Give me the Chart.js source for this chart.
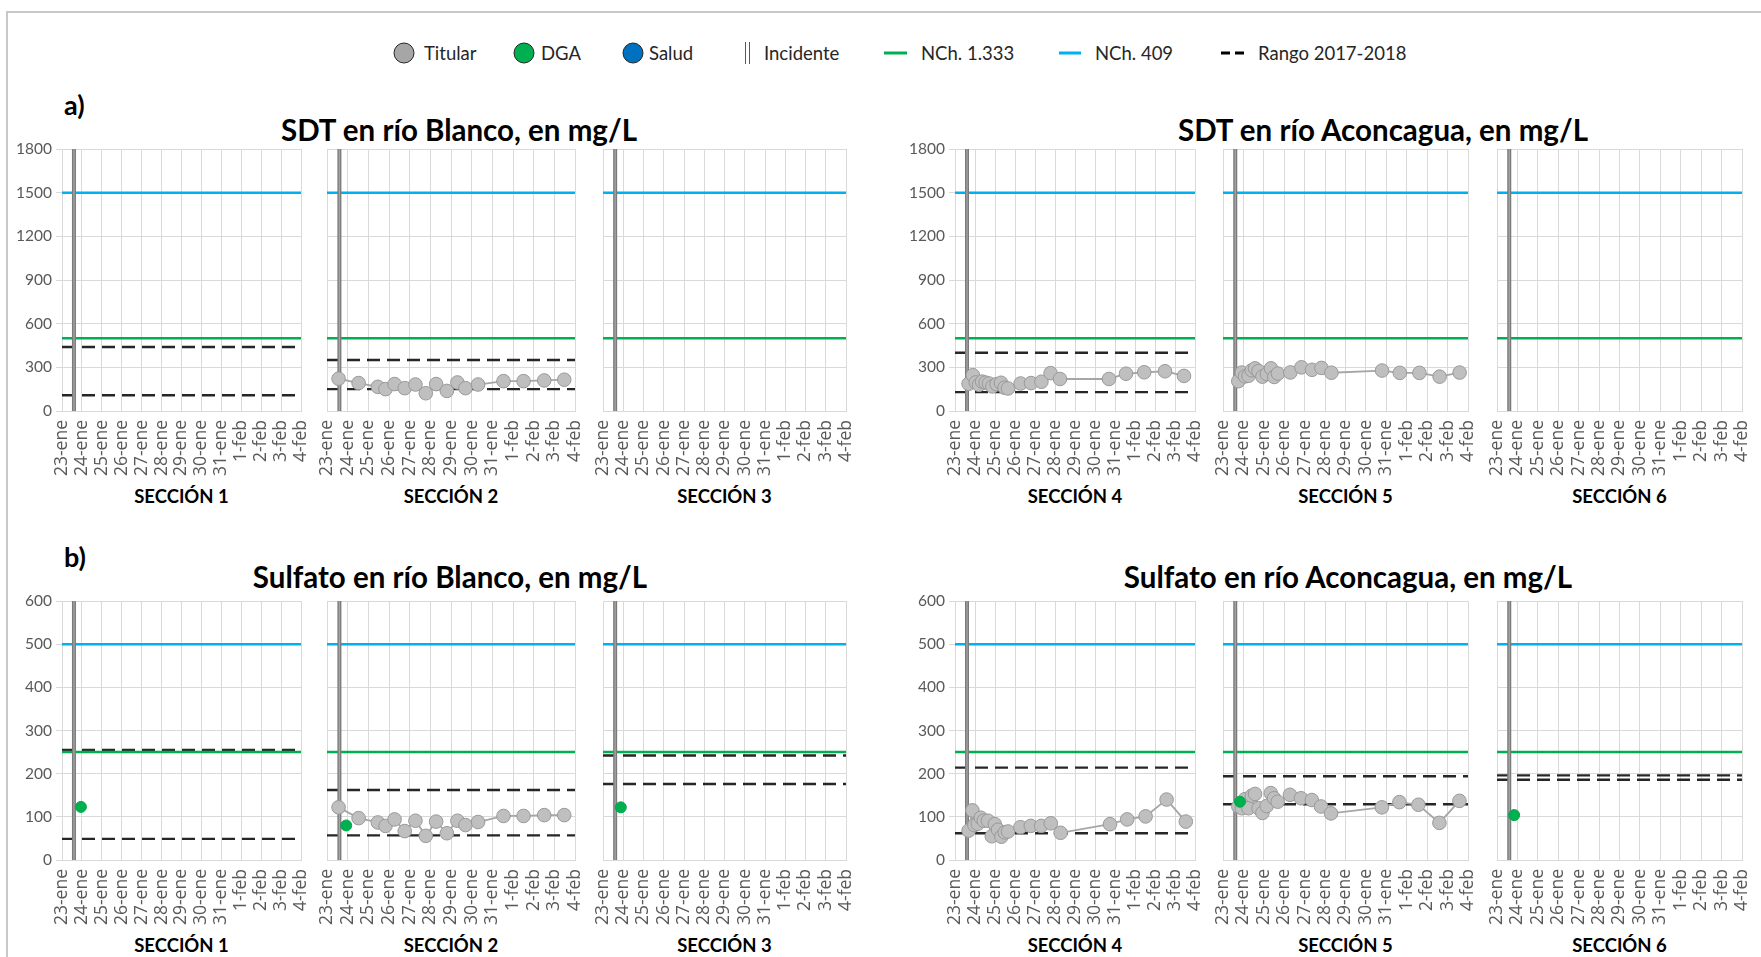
<!DOCTYPE html>
<html>
<head>
<meta charset="utf-8">
<script src="https://cdn.jsdelivr.net/npm/chart.js@4.4.1/dist/chart.umd.min.js"></script>
<style>
  body { margin:0; background:#fff; width:1761px; height:957px; overflow:hidden; position:relative; font-family:Lato, sans-serif; }
  #frame { position:absolute; left:6px; top:11px; width:1800px; height:1000px; border-left:2px solid #c8c8c8; border-top:2px solid #c8c8c8; }
  .t { position:absolute; white-space:nowrap; color:#000; transform:translate(-50%,-50%); }
  .title { font-weight:bold; font-size:29.5px; }
  .sec { font-weight:bold; font-size:18.5px; }
  .lbl { font-weight:bold; font-size:27px; transform:translate(0,-50%); }
  .leg { position:absolute; font-size:18.5px; color:#262626; transform:translate(0,-50%); white-space:nowrap; }
  .dot { position:absolute; width:19px; height:19px; border-radius:50%; border:1.5px solid #262626; transform:translate(-50%,-50%); }
  .bar { position:absolute; height:3px; transform:translate(0,-50%); }
  canvas { position:absolute; }
</style>
</head>
<body>
<div id="frame"></div>

<!-- legend -->
<div class="dot" style="left:404px;top:53px;background:#a6a6a6"></div>
<div class="leg" style="left:424px;top:53px">Titular</div>
<div class="dot" style="left:524px;top:53px;background:#00b050"></div>
<div class="leg" style="left:541px;top:53px">DGA</div>
<div class="dot" style="left:633px;top:53px;background:#0070c0"></div>
<div class="leg" style="left:649px;top:53px">Salud</div>
<div style="position:absolute;left:745px;top:42px;width:3px;height:22px;border-left:1px solid #595959;border-right:1px solid #595959"></div>
<div class="leg" style="left:764px;top:53px">Incidente</div>
<div class="bar" style="left:884px;top:53px;width:23px;background:#00b050"></div>
<div class="leg" style="left:921px;top:53px">NCh. 1.333</div>
<div class="bar" style="left:1059px;top:53px;width:22px;background:#00b0f0"></div>
<div class="leg" style="left:1095px;top:53px">NCh. 409</div>
<div class="bar" style="left:1221px;top:53px;width:23px;background:repeating-linear-gradient(90deg,#000 0 9px,transparent 9px 14px)"></div>
<div class="leg" style="left:1258px;top:53px">Rango 2017-2018</div>

<div class="t lbl" style="left:64px;top:104px">a)</div>
<div class="t lbl" style="left:64px;top:556px">b)</div>
<div class="t title" style="left:459px;top:129px">SDT en río Blanco, en mg/L</div>
<div class="t title" style="left:1383px;top:129px">SDT en río Aconcagua, en mg/L</div>
<div class="t title" style="left:450px;top:576px">Sulfato en río Blanco, en mg/L</div>
<div class="t title" style="left:1348px;top:576px">Sulfato en río Aconcagua, en mg/L</div>

<script>
// categorias del eje x (dias) y ticks del eje y
const days = ['23-ene','24-ene','25-ene','26-ene','27-ene','28-ene','29-ene','30-ene','31-ene','1-feb','2-feb','3-feb','4-feb'];
const sdtTicks = [0,300,600,900,1200,1500,1800];
const sulfTicks = [0,100,200,300,400,500,600];
const sections = ['SECCIÓN 1','SECCIÓN 2','SECCIÓN 3','SECCIÓN 4','SECCIÓN 5','SECCIÓN 6'];

// incidente (dias desde 23-ene)
const incidentDay = 0.6;

// normas
const sdtNch1333 = 500, sdtNch409 = 1500;
const sulfNch1333 = 250, sulfNch409 = 500;

// rango 2017-2018 por seccion
const sdtRangoHigh = [440,350,null,400,null,null];
const sdtRangoLow  = [108,150,null,130,null,null];
const sulfRangoHigh = [255,162,242,214,194,196];
const sulfRangoLow  = [49,57,176,62,129,186];

// Titular - SDT
const sdtSec2Day = [0.56,1.53,2.46,2.83,3.27,3.76,4.28,4.78,5.28,5.80,6.31,6.70,7.31,8.54,9.51,10.51,11.48];
const sdtSec2Val = [222,192,166,150,185,157,182,122,185,138,196,157,182,205,205,210,215];
const sdtSec4Day = [0.68,0.89,1.04,1.2,1.36,1.53,1.7,1.87,2.08,2.3,2.48,2.65,3.28,3.8,4.32,4.78,5.25,7.7,8.55,9.46,10.5,11.45];
const sdtSec4Val = [187,246,196,180,202,195,189,169,184,194,160,155,189,192,201,260,220,220,256,266,273,241];
const sdtSec5Day = [0.75,0.92,1.08,1.25,1.41,1.57,1.74,1.93,2.15,2.35,2.51,2.69,3.3,3.84,4.36,4.82,5.31,7.79,8.66,9.62,10.61,11.59];
const sdtSec5Val = [205,264,238,242,280,293,274,236,254,293,234,257,265,300,283,296,263,278,262,262,236,264];

// Titular - Sulfato
const sulfSec2Day = [0.56,1.53,2.46,2.83,3.27,3.76,4.28,4.78,5.28,5.80,6.31,6.70,7.31,8.54,9.51,10.51,11.48];
const sulfSec2Val = [122,97,87,79,94,67,91,56,89,62,91,81,88,102,102,104,104];
const sulfSec4Day = [0.68,0.87,0.97,1.14,1.29,1.44,1.65,1.84,1.99,2.15,2.32,2.49,2.65,3.27,3.79,4.31,4.79,5.28,7.75,8.61,9.53,10.58,11.54];
const sulfSec4Val = [68,115,81,84,98,91,91,55,83,70,54,64,66,76,79,79,85,63,83,94,101,140,89];
const sulfSec5Day = [0.75,0.92,1.08,1.25,1.41,1.57,1.74,1.93,2.14,2.34,2.5,2.68,3.28,3.82,4.35,4.8,5.29,7.78,8.64,9.57,10.6,11.58];
const sulfSec5Val = [124,120,141,120,149,153,120,109,125,155,143,135,151,143,139,124,108,122,134,128,86,137];

// DGA - Sulfato
const dgaSulfDay = [0.95,0.93,0.88,null,0.83,0.84];
const dgaSulfVal = [123,80,122,null,135,104];

// ---- layout ----
const PANEL_X = [[62,301],[327,575],[603,846],[955,1195],[1223,1468],[1497,1742]];
const ROW_Y = [[149,411],[601,860]];
const SEC_Y = [496,945];
const AX_W = 50, PAD = 14, AX_H = 85;

Chart.defaults.font.family = 'Lato';
Chart.defaults.animation = false;

function pts(xs, ys) { return xs.map((x, i) => ({x: x, y: ys[i]})); }
function hline(v, color, width, dash) {
  return { data: [{x:0, y:v}, {x:days.length - 1, y:v}], showLine:true, borderColor:color,
           borderWidth:width, borderDash:dash || [], pointRadius:0, order:5 };
}

function buildChart(cv, ds, ticks, showY) {
  const ymax = ticks[ticks.length - 1];
  return new Chart(cv, {
    type: 'scatter',
    data: { datasets: ds },
    options: {
      responsive:false, maintainAspectRatio:false, devicePixelRatio:1,
      layout: { padding: { top:PAD, right:PAD, left:0, bottom:0 } },
      plugins: { legend:{display:false}, tooltip:{enabled:false} },
      scales: {
        x: {
          type:'linear', min:0, max:days.length - 1,
          afterFit: s => { s.height = AX_H; },
          afterBuildTicks: s => { s.ticks = days.map((d, i) => ({value:i})); },
          grid: { color:'#d9d9d9', drawTicks:false },
          border: { color:'#d9d9d9' },
          ticks: { autoSkip:false, maxRotation:90, minRotation:90, padding:9,
                   callback: v => days[v], font:{family:'Open Sans', size:17.5}, color:'#595959' }
        },
        y: {
          min:0, max:ymax,
          afterFit: s => { s.width = AX_W; },
          afterBuildTicks: s => { s.ticks = ticks.map(v => ({value:v})); },
          grid: { color:'#d9d9d9', drawTicks:showY, tickLength:6 },
          border: { display:false },
          ticks: { display:showY, padding:4, callback: v => String(v),
                   font:{family:'Lato', size:15.5}, color:'#595959' }
        }
      }
    }
  });
}

function addPanel(row, col) {
  const sdt = row === 0;
  const ticks = sdt ? sdtTicks : sulfTicks;
  const ymax = ticks[ticks.length - 1];
  const [x0, x1] = PANEL_X[col], [y0, y1] = ROW_Y[row];

  const sec = document.createElement('div');
  sec.className = 't sec';
  sec.style.left = ((x0 + x1) / 2) + 'px'; sec.style.top = SEC_Y[row] + 'px';
  sec.textContent = sections[col];
  document.body.appendChild(sec);

  const ds = [];
  ds.push(hline(sdt ? sdtNch409 : sulfNch409, '#00b0f0', 2.5));
  ds.push(hline(sdt ? sdtNch1333 : sulfNch1333, '#00b050', 2.5));
  const hi = (sdt ? sdtRangoHigh : sulfRangoHigh)[col];
  const lo = (sdt ? sdtRangoLow : sulfRangoLow)[col];
  if (hi != null) ds.push(hline(hi, '#262626', 2.4, [13, 7]));
  if (lo != null) ds.push(hline(lo, '#262626', 2.4, [13, 7]));
  ds.push({ data:[{x:incidentDay, y:0}, {x:incidentDay, y:ymax}], showLine:true, borderColor:'#7a7a7a', borderWidth:4, pointRadius:0, order:3 });
  ds.push({ data:[{x:incidentDay, y:0}, {x:incidentDay, y:ymax}], showLine:true, borderColor:'#a6a6a6', borderWidth:1.3, pointRadius:0, order:2 });

  const tit = sdt ? [null, [sdtSec2Day, sdtSec2Val], null, [sdtSec4Day, sdtSec4Val], [sdtSec5Day, sdtSec5Val], null][col]
                  : [null, [sulfSec2Day, sulfSec2Val], null, [sulfSec4Day, sulfSec4Val], [sulfSec5Day, sulfSec5Val], null][col];
  if (tit) ds.push({ data: pts(tit[0], tit[1]), showLine:true, borderColor:'#a6a6a6', borderWidth:1.8,
                     pointRadius:6.8, pointBackgroundColor:'#bfbfbf', pointBorderColor:'#999999', pointBorderWidth:1, order:1 });
  if (!sdt && dgaSulfDay[col] != null)
    ds.push({ data:[{x:dgaSulfDay[col], y:dgaSulfVal[col]}], showLine:false, pointRadius:5.5,
              pointBackgroundColor:'#00b050', pointBorderColor:'#00a84a', pointBorderWidth:1, order:0 });

  const showY = col === 0 || col === 3;

  // first pass: measure the chart area, then rebuild the canvas so the plot sits where it should
  let w = x1 - x0 + AX_W + PAD, h = y1 - y0 + PAD + AX_H;
  let cv = document.createElement('canvas');
  cv.width = w; cv.height = h;
  document.body.appendChild(cv);
  let chart = buildChart(cv, ds, ticks, showY);
  const a = chart.chartArea;
  const left = x0 - a.left, top = y0 - a.top;
  w += (x1 - x0) - (a.right - a.left);
  h += (y1 - y0) - (a.bottom - a.top);
  chart.destroy();
  cv.remove();

  cv = document.createElement('canvas');
  cv.width = w; cv.height = h;
  cv.style.left = left + 'px'; cv.style.top = top + 'px';
  cv.style.width = w + 'px'; cv.style.height = h + 'px';
  document.body.appendChild(cv);
  buildChart(cv, ds, ticks, showY);
}

for (let r = 0; r < 2; r++) for (let c = 0; c < 6; c++) addPanel(r, c);
</script>
</body>
</html>
